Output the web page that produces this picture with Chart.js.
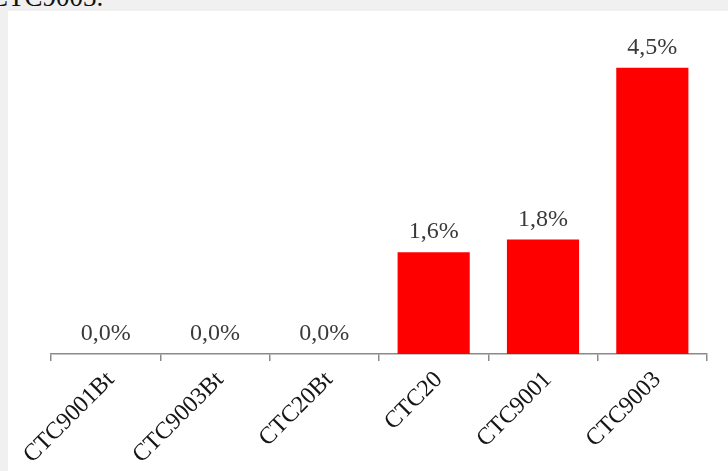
<!DOCTYPE html>
<html>
<head>
<meta charset="utf-8">
<script src="https://cdn.jsdelivr.net/npm/chart.js@4"></script>
<style>
    html, body { margin: 0; padding: 0; background: #f0f0f0; overflow: hidden; }
    body { width: 728px; height: 471px; position: relative; }
    .caption {
        position: absolute; left: -10px; top: -16px;
        font: 27px "Liberation Serif", "Times New Roman", serif;
        line-height: 27px; color: #111; white-space: nowrap;
    }
    .chart-box { position: absolute; left: 8px; top: 11px; width: 720px; height: 460px; background: #fff; }
</style>
</head>
<body>
<div class="caption">CTC9003.</div>
<div class="chart-box"><canvas id="chart" width="720" height="460"></canvas></div>
<script>
document.addEventListener('DOMContentLoaded', function () {
    const strains = ['CTC9001Bt', 'CTC9003Bt', 'CTC20Bt', 'CTC20', 'CTC9001', 'CTC9003'];
    const rates = [0.0, 0.0, 0.0, 1.6, 1.8, 4.5];
    const serif = '"Liberation Serif", "Times New Roman", serif';

    const fmt = (v) => v.toFixed(1).replace('.', ',') + '%';

    // value labels above each bar
    const valueLabels = {
        id: 'valueLabels',
        afterDatasetsDraw(chart) {
            const ctx = chart.ctx;
            const meta = chart.getDatasetMeta(0);
            ctx.save();
            ctx.font = '24px ' + serif;
            ctx.fillStyle = '#3a3a3a';
            ctx.textAlign = 'center';
            ctx.textBaseline = 'alphabetic';
            meta.data.forEach((bar, i) => {
                ctx.fillText(fmt(rates[i]), bar.x, bar.y - 14);
            });
            ctx.restore();
        }
    };

    new Chart(document.getElementById('chart').getContext('2d'), {
        type: 'bar',
        data: {
            labels: strains,
            datasets: [{
                data: rates,
                backgroundColor: '#ff0000',
                borderWidth: 0,
                barPercentage: 0.66,
                categoryPercentage: 1
            }]
        },
        options: {
            responsive: false,
            devicePixelRatio: 1,
            animation: false,
            layout: { padding: { left: 43, right: 21, top: 25, bottom: 0 } },
            plugins: { legend: { display: false }, tooltip: { enabled: false } },
            scales: {
                y: { display: false, min: 0, max: 5 },
                x: {
                    afterFit(scale) { scale.height = 117; },
                    border: { display: true, color: '#8a8a8a', width: 1.5 },
                    grid: { display: true, drawOnChartArea: false, drawTicks: true, tickLength: 7, color: '#8a8a8a', lineWidth: 1.5 },
                    ticks: {
                        minRotation: 45,
                        maxRotation: 45,
                        autoSkip: false,
                        labelOffset: 5,
                        padding: 5,
                        color: '#151515',
                        font: { family: serif, size: 24 }
                    }
                }
            }
        },
        plugins: [valueLabels]
    });
});
</script>
</body>
</html>
